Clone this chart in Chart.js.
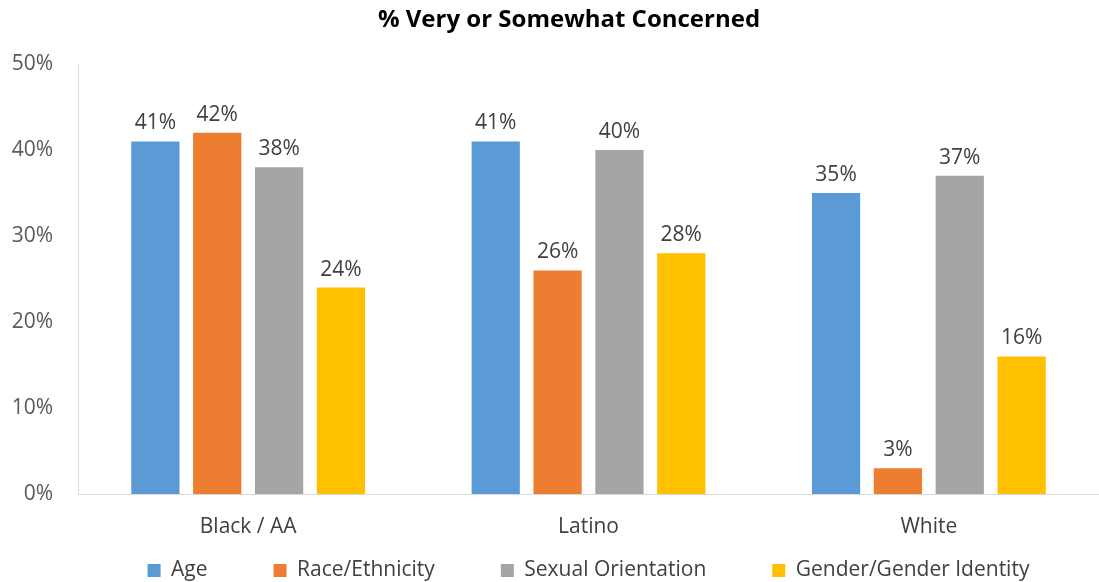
<!DOCTYPE html>
<html>
<head>
<meta charset="utf-8">
<script src="https://cdn.jsdelivr.net/npm/chart.js@4.4.1/dist/chart.umd.min.js"></script>
<style>
  html, body { margin: 0; padding: 0; background: #fff; }
  #wrap { width: 1099px; height: 582px; position: relative; }
</style>
</head>
<body>
<div id="wrap"><canvas id="chart"></canvas></div>
<script>
// Data
const categories = ['Black / AA', 'Latino', 'White'];
const seriesNames = ['Age', 'Race/Ethnicity', 'Sexual Orientation', 'Gender/Gender Identity'];
const ageValues = [41, 41, 35];
const raceValues = [42, 26, 3];
const sexualValues = [38, 40, 37];
const genderValues = [24, 28, 16];
const yTicks = [0, 10, 20, 30, 40, 50];
const chartTitle = '% Very or Somewhat Concerned';

const colors = ['#5B9BD5', '#ED7D31', '#A5A5A5', '#FFC000'];
const FONT = "'Open Sans', 'Liberation Sans', sans-serif";

// value labels above each bar
const valueLabels = {
    id: 'valueLabels',
    afterDatasetsDraw(chart) {
        const ctx = chart.ctx;
        ctx.save();
        ctx.font = `21px ${FONT}`;
        ctx.fillStyle = '#404040';
        ctx.textAlign = 'center';
        ctx.textBaseline = 'alphabetic';
        chart.data.datasets.forEach((ds, i) => {
            chart.getDatasetMeta(i).data.forEach((bar, j) => {
                ctx.fillText(ds.data[j] + '%', bar.x, bar.y - 12);
            });
        });
        ctx.restore();
    }
};

// title drawn a bit left of the plot centre, as in the original
const titlePlugin = {
    id: 'titlePlugin',
    afterDraw(chart) {
        const ctx = chart.ctx;
        ctx.save();
        ctx.font = `bold 24px ${FONT}`;
        ctx.fillStyle = '#000';
        ctx.textAlign = 'center';
        ctx.textBaseline = 'middle';
        ctx.fillText(chartTitle, 569, 20);
        ctx.restore();
    }
};

new Chart(document.getElementById('chart'), {
    type: 'bar',
    data: {
        labels: categories,
        datasets: [
            { label: seriesNames[0], data: ageValues, backgroundColor: colors[0] },
            { label: seriesNames[1], data: raceValues, backgroundColor: colors[1] },
            { label: seriesNames[2], data: sexualValues, backgroundColor: colors[2] },
            { label: seriesNames[3], data: genderValues, backgroundColor: colors[3] }
        ]
    },
    options: {
        responsive: true,
        maintainAspectRatio: false,
        animation: false,
        datasets: { bar: { categoryPercentage: 0.727, barPercentage: 0.78 } },
        layout: { padding: { top: 64, left: 0, right: 0, bottom: 0 } },
        plugins: {
            title: { display: false },
            tooltip: { enabled: false },
            legend: {
                position: 'bottom',
                fullSize: false,
                maxHeight: 88,
                labels: {
                    boxWidth: 13,
                    boxHeight: 13,
                    padding: 66,
                    color: '#404040',
                    font: { family: FONT, size: 21 }
                }
            }
        },
        scales: {
            x: {
                grid: { display: false, drawTicks: false },
                border: { display: true, color: '#d9d9d9', width: 1 },
                // mirrored labels with negative padding sit below the axis without taking layout room
                ticks: { color: '#404040', mirror: true, padding: -46, font: { family: FONT, size: 21 } },
                afterFit: (scale) => { scale.height = 0; }
            },
            y: {
                min: 0,
                max: 50,
                grid: { display: false, drawTicks: false },
                border: { display: true, color: '#d9d9d9', width: 1 },
                afterBuildTicks: (scale) => { scale.ticks = yTicks.map(v => ({ value: v })); },
                ticks: {
                    color: '#595959',
                    padding: 25,
                    font: { family: FONT, size: 21 },
                    callback: (v) => v + '%'
                },
                afterFit: (scale) => { scale.width = 78; }
            }
        }
    },
    plugins: [valueLabels, titlePlugin]
});
</script>
</body>
</html>
